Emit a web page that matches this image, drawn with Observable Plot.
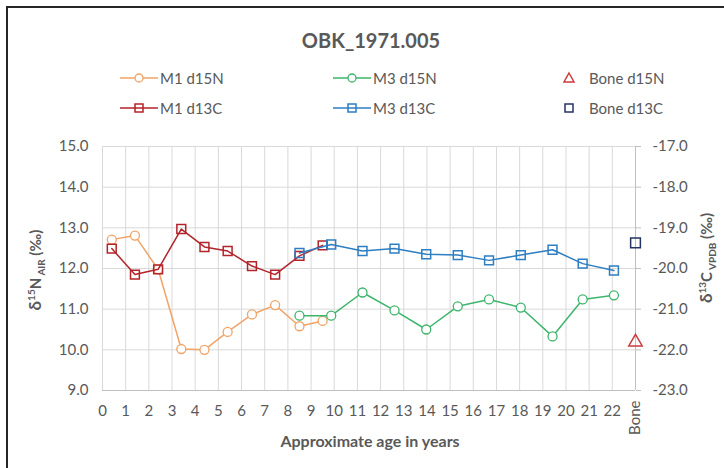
<!DOCTYPE html>
<html>
<head>
<meta charset="utf-8">
<script src="https://cdn.jsdelivr.net/npm/d3@7"></script>
<script src="https://cdn.jsdelivr.net/npm/@observablehq/plot@0.6"></script>
<style>
  html, body { margin: 0; padding: 0; background: #fff; }
  #wrap { position: relative; width: 724px; height: 468px; overflow: hidden; background: #fff; font-family: Lato, "Open Sans", sans-serif; color: #595959; }
  #frame { position: absolute; left: 6px; top: 6px; width: 900px; height: 700px; border-left: 2px solid #262626; border-top: 2px solid #262626; pointer-events: none; }
  #title { position: absolute; left: 371px; top: 40px; transform: translate(-50%, -50%); font-size: 20px; font-weight: bold; white-space: nowrap; }
  .leg { position: absolute; display: flex; align-items: center; font-size: 15px; white-space: nowrap; transform: translateY(-50%); }
  .leg svg { display: block; }
  .ylab { position: absolute; transform: translate(-50%, -50%) rotate(-90deg); font-size: 15px; font-weight: bold; white-space: nowrap; }
  .ylab .big { font-size: 17px; }
  .ylab sup, .ylab sub { font-size: 10px; }
  #xlab { position: absolute; left: 370px; top: 440px; transform: translate(-50%, -50%); font-size: 16px; font-weight: bold; white-space: nowrap; }
  #plot { position: absolute; left: 0; top: 0; }
</style>
</head>
<body>
<div id="wrap">
  <div id="plot"></div>
  <div id="title"></div>
  <div id="legend"></div>
  <div class="ylab" style="left:35px; top:270px;"><span class="big">δ</span><sup>15</sup>N<sub> AIR</sub> (‰)</div>
  <div class="ylab" style="left:706px; top:258px;"><span class="big">δ</span><sup>13</sup>C<sub> VPDB</sub> (‰)</div>
  <div id="xlab"></div>
  <div id="frame"></div>
</div>
<script>
// ---- data ----
const chartTitle = "OBK_1971.005";
const xTitle = "Approximate age in years";

const m1Age = [0.4, 1.4, 2.4, 3.4, 4.4, 5.4, 6.45, 7.45, 8.5, 9.5];
const m1N   = [12.71, 12.81, 11.98, 10.02, 10.0, 10.44, 10.87, 11.10, 10.58, 10.71];
const m1C   = [-19.51, -20.15, -20.02, -19.03, -19.47, -19.57, -19.94, -20.15, -19.69, -19.43];

const m3Age = [8.5, 9.87, 11.22, 12.6, 13.97, 15.33, 16.68, 18.05, 19.42, 20.72, 22.07];
const m3N   = [10.84, 10.84, 11.41, 10.97, 10.50, 11.07, 11.24, 11.04, 10.33, 11.24, 11.34];
const m3C   = [-19.62, -19.41, -19.57, -19.51, -19.65, -19.67, -19.80, -19.67, -19.54, -19.88, -20.05];

const boneAge = [23];
const boneN = [10.19];
const boneC = [-19.37];

const xTicks = [0,1,2,3,4,5,6,7,8,9,10,11,12,13,14,15,16,17,18,19,20,21,22];
const boneLabel = "Bone";
const leftTicks = [9, 10, 11, 12, 13, 14, 15];
const leftDomain = [9, 15];
const rightDomain = [-23, -17];

const seriesNames = ["M1 d15N", "M3 d15N", "Bone d15N", "M1 d13C", "M3 d13C", "Bone d13C"];
const seriesColors = ["#F2A366", "#3DB56C", "#CC3B3F", "#B3232A", "#2E7EC2", "#243460"];

// ---- secondary axis mapping (right δ13C scale onto left δ15N scale) ----
const k = (leftDomain[1] - leftDomain[0]) / (rightDomain[1] - rightDomain[0]);
const toLeft = c => leftDomain[0] + (c - rightDomain[0]) * k;
const toRight = n => rightDomain[0] + (n - leftDomain[0]) / k;

const [cM1N, cM3N, cBoneN, cM1C, cM3C, cBoneC] = seriesColors;

const plot = Plot.plot({
  width: 724,
  height: 468,
  marginTop: 146,
  marginBottom: 78,
  marginLeft: 102,
  marginRight: 89,
  x: {domain: [0, 23]},
  y: {domain: leftDomain},
  style: {fontFamily: "Lato, 'Open Sans', sans-serif", fontSize: "15px", color: "#595959", background: "transparent", overflow: "visible"},
  marks: [
    Plot.gridX([...xTicks, boneAge[0]], {stroke: "#d9d9d9", strokeOpacity: 1}),
    Plot.gridY(leftTicks, {stroke: "#d9d9d9", strokeOpacity: 1}),
    Plot.ruleY([leftDomain[0]], {stroke: "#bfbfbf"}),
    Plot.ruleX(boneAge, {stroke: "#bfbfbf"}),
    Plot.axisX(xTicks, {tickSize: 0, tickPadding: 15, tickFormat: d => String(d), label: null, fill: "#595959"}),
    Plot.axisX(boneAge, {tickSize: 0, tickPadding: 10, tickRotate: -90, tickFormat: () => boneLabel, label: null, fill: "#595959"}),
    Plot.axisY(leftTicks, {anchor: "left", tickSize: 0, tickPadding: 14, tickFormat: d => d.toFixed(1), label: null, fill: "#595959"}),
    Plot.axisY(leftTicks, {anchor: "right", tickSize: 5, tickPadding: 12, tickFormat: d => toRight(d).toFixed(1), label: null, stroke: "#bfbfbf", fill: "#595959"}),

    // δ15N series
    Plot.line(m1N, {x: m1Age, y: m1N, stroke: cM1N, strokeWidth: 1.5}),
    Plot.dot(m1N, {x: m1Age, y: m1N, r: 4.5, stroke: cM1N, fill: "white", strokeWidth: 1.3}),
    Plot.line(m3N, {x: m3Age, y: m3N, stroke: cM3N, strokeWidth: 1.5}),
    Plot.dot(m3N, {x: m3Age, y: m3N, r: 4.5, stroke: cM3N, fill: "white", strokeWidth: 1.3}),
    Plot.dot(boneN, {x: boneAge, y: boneN, symbol: "triangle", r: 5, stroke: cBoneN, fill: "none", strokeWidth: 1.5}),

    // δ13C series (secondary axis)
    Plot.line(m1C, {x: m1Age, y: m1C.map(toLeft), stroke: cM1C, strokeWidth: 1.5}),
    Plot.dot(m1C, {x: m1Age, y: m1C.map(toLeft), symbol: "square", r: 5, stroke: cM1C, fill: "none", strokeWidth: 1.5}),
    Plot.line(m3C, {x: m3Age, y: m3C.map(toLeft), stroke: cM3C, strokeWidth: 1.5}),
    Plot.dot(m3C, {x: m3Age, y: m3C.map(toLeft), symbol: "square", r: 5, stroke: cM3C, fill: "none", strokeWidth: 1.5}),
    Plot.dot(boneC, {x: boneAge, y: boneC.map(toLeft), symbol: "square", r: 5.5, stroke: cBoneC, fill: "none", strokeWidth: 1.5})
  ]
});
document.getElementById("plot").appendChild(plot);

document.getElementById("title").textContent = chartTitle;
document.getElementById("xlab").textContent = xTitle;

// ---- legend ----
const legendPos = [
  {x: 120, y: 78, kind: "line", marker: "circle"},
  {x: 333, y: 78, kind: "line", marker: "circle"},
  {x: 561, y: 78, kind: "point", marker: "triangle"},
  {x: 120, y: 108, kind: "line", marker: "square"},
  {x: 333, y: 108, kind: "line", marker: "square"},
  {x: 561, y: 108, kind: "point", marker: "square"}
];
const legend = document.getElementById("legend");
seriesNames.forEach((name, i) => {
  const p = legendPos[i];
  const col = seriesColors[i];
  const w = p.kind === "line" ? 38 : 16;
  const cx = w / 2, cy = 8;
  let m = "";
  if (p.marker === "circle") m = `<circle cx="${cx}" cy="${cy}" r="4" fill="white" stroke="${col}" stroke-width="1.3"/>`;
  if (p.marker === "square") m = `<rect x="${cx - 4}" y="${cy - 4}" width="8" height="8" fill="none" stroke="${col}" stroke-width="1.5"/>`;
  if (p.marker === "triangle") m = `<path d="M${cx},${cy - 5}L${cx + 5},${cy + 4}L${cx - 5},${cy + 4}Z" fill="none" stroke="${col}" stroke-width="1.5"/>`;
  const ln = p.kind === "line" ? `<line x1="0" x2="${w}" y1="${cy}" y2="${cy}" stroke="${col}" stroke-width="1.5"/>` : "";
  const div = document.createElement("div");
  div.className = "leg";
  div.style.left = p.x + "px";
  div.style.top = p.y + "px";
  const gap = p.kind === "line" ? 2 : 12;
  div.innerHTML = `<svg width="${w}" height="16">${p.marker === "circle" ? ln + m : ln + m}</svg><span style="margin-left:${gap}px">${name}</span>`;
  legend.appendChild(div);
});
</script>
</body>
</html>
